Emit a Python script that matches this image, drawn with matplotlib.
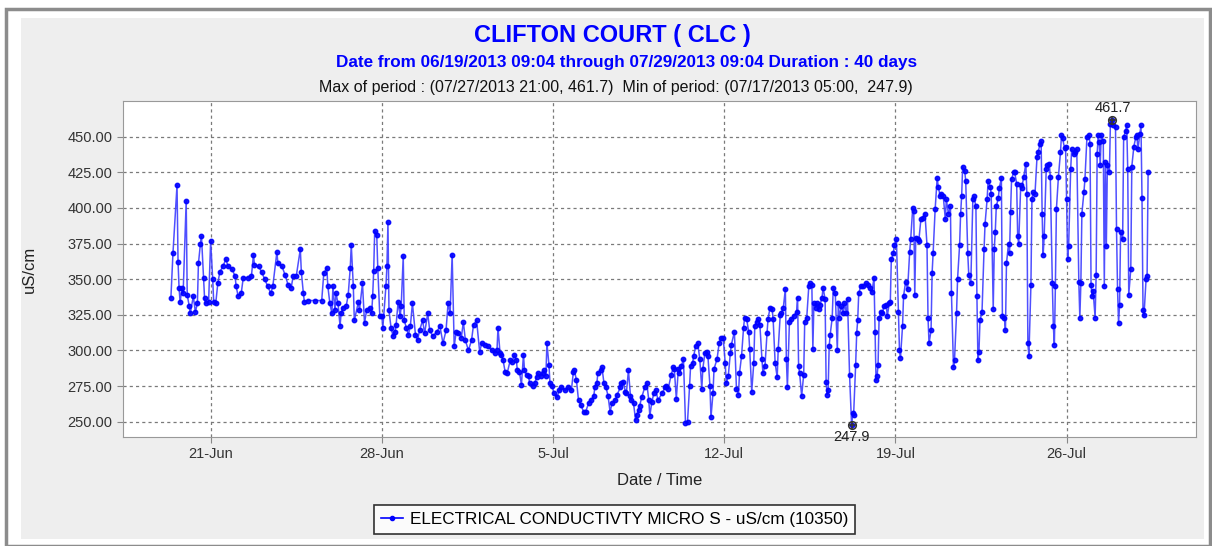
import matplotlib
matplotlib.use("Agg")
import matplotlib.pyplot as plt
import matplotlib.dates as mdates
from matplotlib.patches import Rectangle
from matplotlib.lines import Line2D
from matplotlib.ticker import FuncFormatter
import pandas as pd

plt.rcParams['font.family'] = ['Liberation Sans', 'DejaVu Sans']

station = "CLIFTON COURT ( CLC )"
subtitle = "Date from 06/19/2013 09:04 through 07/29/2013 09:04 Duration : 40 days"
series_name = "ELECTRICAL CONDUCTIVTY MICRO S - uS/cm (10350)"
start = pd.Timestamp("2013-06-19 09:00")

# hours after start (hourly record, subset)
hours = [
    0, 2, 6, 7, 8, 9, 11, 12, 15, 16, 18, 19, 22, 24, 26, 27, 29, 30, 32, 33,
    34, 37, 39, 41, 42, 44, 46, 48, 51, 54, 56, 60, 63, 64, 66, 69, 71, 76, 79, 81,
    82, 86, 89, 92, 95, 98, 100, 104, 105, 109, 112, 115, 118, 120, 123, 127, 128, 130, 131, 135,
    141, 148, 150, 153, 154, 156, 158, 159,
    161, 162, 164, 166, 167, 169, 172, 174, 176, 177, 179, 180, 184, 185, 188, 190, 192, 195, 197, 198,
    199, 200, 202, 203, 205, 207, 208, 211, 212, 213, 214, 216, 218, 220, 221, 223, 225, 226, 228, 229,
    231, 233, 235, 237, 240, 242, 244, 247, 249, 252, 254, 257, 261, 264, 267, 270, 272, 274, 276, 278,
    280, 282, 285, 287, 289, 292, 295, 297, 300, 303, 305, 308, 311, 315, 318, 320, 321, 323,
    324, 326, 328, 330, 333, 335, 337, 339, 340, 342, 344, 346, 347, 349, 351, 352, 355, 357, 359, 360,
    363, 365, 366, 368, 369, 371, 372, 374, 376, 379, 381, 383, 387, 390, 393, 395, 396, 398, 400, 402,
    405, 407, 410, 412, 415, 416, 418, 419, 422, 423, 425, 427, 429, 431, 433, 436, 438, 441, 442, 444,
    446, 447, 449, 451, 452, 454, 456, 457, 459, 460, 462, 465, 467, 469, 470, 472, 474, 476, 478, 482,
    485,
    486, 488, 491, 493, 494, 496, 498, 499, 501, 503, 505, 507, 509, 510, 512, 513, 515, 517, 519, 521,
    522, 524, 526, 527, 529, 530, 532, 533, 536, 538, 540, 542, 544, 545, 547, 549, 550, 553, 555, 557,
    558, 560, 562, 563, 565, 567, 568, 570, 572, 573, 575, 576, 578, 580, 581, 583, 585, 586, 588, 590,
    591, 593, 595, 596, 598, 599, 601, 603, 604, 605, 607, 609, 611, 614, 615, 616, 617, 619, 621, 622,
    624, 626, 627, 629, 630, 631, 633, 634, 636, 637, 639, 640, 642, 643,
    644, 645, 646, 647, 649, 650, 652, 654, 655, 656, 658, 660, 661, 663, 664, 666, 668, 669, 670, 672,
    673, 674, 675, 677, 679, 682, 684, 686, 688, 690, 691, 692, 693, 694, 695, 697, 698, 700, 702, 703,
    705, 706, 707, 709, 710, 712, 714, 715, 716, 718, 719, 721, 723, 725, 726, 728, 729, 730, 731, 733,
    734, 736, 738, 740, 742, 743, 744, 746, 747, 748, 750, 752, 753, 755, 756, 758, 760, 761, 763, 765,
    766, 768, 769, 771, 772, 774, 775, 776, 777, 779, 780, 782, 783, 785, 787, 788, 790, 791, 792, 793,
    794, 796, 798, 799, 801, 802,
    804, 805, 807, 808, 809, 810, 812, 813, 815, 816, 818, 819, 820, 822, 823, 824, 825, 827, 828, 830,
    831, 832, 834, 835, 837, 839, 840, 841, 842, 844, 845, 846, 848, 850, 851, 853, 854, 855, 856, 857,
    859, 860, 862, 863, 865, 866, 867, 868, 869, 871, 873, 874, 875, 877, 878, 879, 880, 881, 883, 884,
    886, 887, 889, 891, 892, 893, 894, 896, 897, 899, 901, 902, 903, 904, 905, 907, 908, 909, 910, 911,
    912, 913, 915, 916, 917, 918, 919, 921, 922, 924, 925, 927, 928, 929, 930, 931, 932, 934, 935, 937,
    938, 939, 940, 942, 943, 945, 947, 948, 949, 951, 952, 953, 954, 955, 957, 958, 959,
]

ec = [
    337, 368, 416, 362, 344, 334, 344, 340, 405, 339, 331, 326, 338, 327, 333, 361, 375, 380, 351, 337,
    333, 334, 377, 350, 334, 333, 347, 355, 359, 364, 359, 357, 352, 345, 338, 340, 351, 351, 352, 367,
    360, 359, 355, 350, 345, 340, 345, 369, 361, 359, 353, 346, 344, 352, 352, 371, 355, 340, 334, 335,
    335, 335, 354, 358, 345, 333, 326, 345,
    328, 340, 333, 317, 326, 330, 331, 339, 358, 374, 345, 321, 334, 328, 347, 319, 328, 330, 326, 338,
    356, 384, 381, 358, 324, 324, 316, 345, 359, 390, 328, 316, 310, 313, 318, 334, 324, 331, 366, 321,
    316, 311, 317, 333, 311, 307, 314, 321, 312, 326, 314, 310, 313, 317, 305, 314, 333, 326, 367, 303,
    313, 312, 309, 320, 307, 300, 307, 318, 321, 299, 305, 304, 303, 300, 298, 300, 316, 298,
    297, 293, 285, 284, 293, 292, 297, 293, 286, 285, 276, 297, 286, 283, 282, 277, 275, 277, 281, 284,
    282, 284, 286, 282, 305, 290, 277, 275, 270, 267, 272, 274, 272, 274, 272, 285, 286, 279, 265, 262,
    257, 257, 263, 265, 268, 274, 277, 284, 286, 288, 277, 274, 268, 257, 263, 265, 269, 274, 277, 278,
    271, 270, 286, 268, 265, 263, 251, 255, 258, 261, 267, 274, 277, 265, 254, 264, 270, 272, 265, 270,
    274,
    275, 273, 283, 288, 287, 266, 287, 284, 289, 294, 249, 250, 275, 289, 291, 296, 303, 305, 294, 273,
    287, 298, 299, 296, 275, 253, 270, 287, 294, 305, 309, 309, 291, 277, 282, 298, 304, 313, 273, 269,
    284, 296, 316, 323, 322, 313, 301, 271, 291, 317, 320, 322, 318, 294, 284, 289, 312, 322, 330, 329,
    322, 291, 281, 301, 325, 326, 330, 343, 294, 274, 320, 322, 324, 327, 337, 289, 284, 268, 283, 320,
    323, 345, 347, 346, 301, 333, 330, 333, 329, 332, 337, 344, 336, 278,
    269, 272, 303, 311, 323, 344, 340, 300, 333, 323, 331, 326, 333, 326, 336, 283, 247.9, 256, 255, 290,
    312, 321, 340, 345, 345, 347, 346, 344, 341, 351, 313, 279, 282, 290, 323, 327, 326, 331, 332, 324,
    333, 334, 364, 368, 374, 378, 327, 300, 295, 317, 338, 348, 343, 369, 378, 400, 398, 339, 379, 378,
    377, 392, 393, 396, 374, 323, 305, 314, 354, 368, 399, 421, 415, 408, 410, 408, 392, 406, 396, 401,
    340, 288, 293, 326, 350, 374, 396, 408, 429, 426, 419, 368, 353, 347, 406, 408, 401, 338, 293, 299,
    321, 327, 371, 389, 406, 419,
    415, 410, 329, 371, 383, 401, 407, 414, 421, 324, 323, 314, 361, 375, 368, 397, 420, 425, 425, 417,
    380, 375, 416, 414, 422, 431, 410, 305, 296, 346, 406, 411, 410, 436, 439, 445, 447, 396, 367, 380,
    427, 430, 431, 422, 347, 317, 304, 345, 399, 422, 439, 451, 449, 442, 443, 406, 364, 373, 427, 441,
    438, 439, 441, 348, 323, 347, 396, 411, 420, 450, 451, 445, 346, 338, 342, 323, 353, 438, 451, 446,
    430, 451, 447, 345, 432, 373, 430, 425, 459, 461.7, 458, 457, 385, 343, 319, 332, 383, 378, 450, 454,
    458, 427, 339, 357, 429, 443, 450, 451, 441, 452, 458, 407, 328, 325, 350, 352, 425,
]

y_ticks = [250, 275, 300, 325, 350, 375, 400, 425, 450]
week_ticks = ["2013-06-21", "2013-06-28", "2013-07-05", "2013-07-12", "2013-07-19", "2013-07-26"]

t = start + pd.to_timedelta(hours, unit="h")
s = pd.Series(ec, index=t)

fig = plt.figure(figsize=(12.12, 5.46), dpi=100)
fig.patch.set_facecolor("white")
# outer frame and grey panel (behind the axes)
fig.add_artist(Rectangle((0.005, 0.0), 0.993, 0.983, transform=fig.transFigure,
                         facecolor="white", edgecolor="#8c8c8c", lw=2.5, zorder=-10))
fig.add_artist(Rectangle((0.017, 0.012), 0.976, 0.955, transform=fig.transFigure,
                         facecolor="#eeeeee", edgecolor="none", zorder=-9))

ax = fig.add_axes([0.1015, 0.1996, 0.8853, 0.6154])
ax.set_facecolor("white")
ax.plot(s.index, s.values, color="#3c3cff", lw=1.1, marker="o", ms=3.2,
        mfc="#0000ff", mec="#0000ff", alpha=0.9, zorder=3)

# min / max annotations
tmax, vmax = s.idxmax(), s.max()
tmin, vmin = s.idxmin(), s.min()
for tt, vv, dy, va in [(tmax, vmax, 3.5, "bottom"), (tmin, vmin, -3.5, "top")]:
    ax.plot([tt], [vv], marker="o", ms=5.5, mfc="none", mec="#333333", mew=1.1, zorder=4)
    ax.plot([tt], [vv], marker="+", ms=5.5, color="#333333", mew=1.1, zorder=4)
    ax.text(tt, vv + dy, f"{vv:.1f}", ha="center", va=va, fontsize=10.5, color="#222222")

ax.set_xlim(pd.Timestamp("2013-06-17 10:00"), pd.Timestamp("2013-07-31 07:00"))
ax.set_ylim(239.2, 475)
ax.set_yticks(y_ticks)
ax.yaxis.set_major_formatter(FuncFormatter(lambda v, p: f"{v:.2f}"))
ax.set_xticks(pd.to_datetime(week_ticks))
ax.xaxis.set_major_formatter(FuncFormatter(lambda v, p: f"{mdates.num2date(v).day}-{mdates.num2date(v):%b}"))
ax.tick_params(labelsize=10.5, colors="#333333", length=4, color="#888888")
ax.grid(True, color="#7a7a7a", ls=(0, (2.5, 2.5)), lw=0.9)
for sp in ax.spines.values():
    sp.set_color("#999999")

ax.set_xlabel("Date / Time", fontsize=12, color="#222222", labelpad=8)
ax.set_ylabel("uS/cm", fontsize=12, color="#222222", labelpad=22)

fig.text(0.505, 0.935, station, ha="center", va="center", fontsize=17, fontweight="bold", color="#0000ff")
fig.text(0.517, 0.885, subtitle, ha="center", va="center", fontsize=12.3, fontweight="bold", color="#0000ff")
fig.text(0.508, 0.84, f"Max of period : ({tmax:%m/%d/%Y %H:%M}, {vmax:.1f})  Min of period: ({tmin:%m/%d/%Y %H:%M},  {vmin:.1f})",
         ha="center", va="center", fontsize=11.5, color="#111111")

handle = Line2D([], [], color="#0000ff", lw=1.2, marker="o", ms=3)
leg = fig.legend([handle], [series_name], loc="center", bbox_to_anchor=(0.507, 0.048),
                 fontsize=12.3, frameon=True, fancybox=False, handlelength=1.3,
                 borderpad=0.4, handletextpad=0.4, edgecolor="black")
leg.get_frame().set_linewidth(1.2)

fig.savefig("out.png", dpi=100)
